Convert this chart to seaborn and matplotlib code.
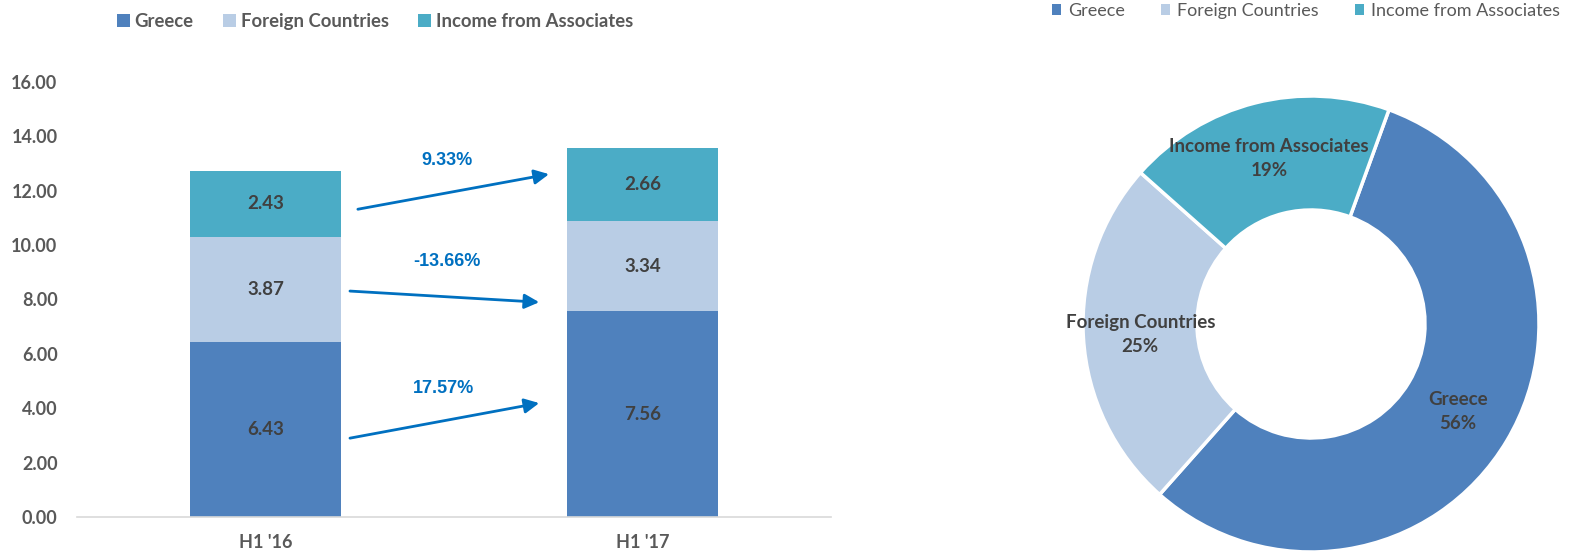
import numpy as np
import matplotlib
matplotlib.use("Agg")
import matplotlib.pyplot as plt
from matplotlib.patches import Patch
import seaborn as sns

# Revenue breakdown (EUR m) by region
periods = ["H1 '16", "H1 '17"]
series_names = ["Greece", "Foreign Countries", "Income from Associates"]
greece = [6.43, 7.56]
foreign = [3.87, 3.34]
associates = [2.43, 2.66]
changes = ["17.57%", "-13.66%", "9.33%"]
y_ticks = [0, 2, 4, 6, 8, 10, 12, 14, 16]
# H1 '17 mix, in percent
share_latest = [56, 25, 19]

colors = ["#4F81BD", "#B9CDE5", "#4BACC6"]
grey_txt = "#595959"
dark_txt = "#404040"
blue = "#0070C0"

sns.set_style("white")
plt.rcParams["font.family"] = ["Lato", "DejaVu Sans"]

W, H = 1589, 554
fig = plt.figure(figsize=(W / 100, H / 100), dpi=100)

# ---- stacked bars ----
ax = fig.add_axes([77 / W, 1 - 517 / H, 754 / W, 435 / H])
stack = [greece, foreign, associates]
bottom = np.zeros(len(periods))
for vals, col in zip(stack, colors):
    sns.barplot(x=periods, y=vals, bottom=bottom, color=col, width=0.4,
                saturation=1, ax=ax, linewidth=0)
    for i, v in enumerate(vals):
        ax.text(i, bottom[i] + v / 2, f"{v:.2f}", ha="center", va="center",
                fontsize=13.5, fontweight="bold", color=dark_txt)
    bottom = bottom + np.array(vals)

ax.set_xlim(-0.5, 1.5)
ax.set_ylim(0, 16)
ax.set_yticks(y_ticks)
ax.set_yticklabels([f"{t:.2f}" for t in y_ticks])
ax.tick_params(axis="both", length=0, labelsize=13, labelcolor=grey_txt)
ax.tick_params(axis="y", pad=14)
ax.tick_params(axis="x", pad=12)
for lab in ax.get_xticklabels() + ax.get_yticklabels():
    lab.set_fontweight("bold")
for s in ["top", "left", "right"]:
    ax.spines[s].set_visible(False)
ax.spines["bottom"].set_color("#D9D9D9")
ax.spines["bottom"].set_linewidth(1.2)
ax.set_xlabel("")
ax.set_ylabel("")

# growth arrows between periods: (start, end, label position)
arrows = [
    ((0.224, 2.90), (0.726, 4.19), (0.473, 4.71)),
    ((0.224, 8.31), (0.726, 7.90), (0.481, 9.41)),
    ((0.245, 11.32), (0.752, 12.61), (0.481, 13.12)),
]
for (start, end, lpos), txt in zip(arrows, changes):
    ax.annotate("", xy=end, xytext=start,
                arrowprops=dict(arrowstyle="-|>", color=blue, lw=2,
                                mutation_scale=22, shrinkA=0, shrinkB=0))
    ax.text(*lpos, txt, ha="center", va="center", color=blue, fontsize=13,
            fontweight="bold", family=["Liberation Sans", "DejaVu Sans"])

handles = [Patch(facecolor=c, edgecolor="none", label=n) for c, n in zip(colors, series_names)]
leg1 = fig.legend(handles=handles, loc="upper left", bbox_to_anchor=(117 / W, 1 - 13 / H),
                  ncol=3, frameon=False, handlelength=0.7, handleheight=0.7,
                  handletextpad=0.25, columnspacing=1.6, borderpad=0, borderaxespad=0,
                  prop=dict(weight="bold", size=13.3))
for t in leg1.get_texts():
    t.set_color(grey_txt)

# ---- doughnut of latest period ----
R = 228
cx, cy = 1311, 324
ax2 = fig.add_axes([(cx - R) / W, 1 - (cy + R) / H, 2 * R / W, 2 * R / H])
wedges, _ = ax2.pie(share_latest, colors=colors, startangle=70, counterclock=False,
                    radius=1, wedgeprops=dict(width=0.5, edgecolor="white", linewidth=2.5))
for w, name, v in zip(wedges, series_names, share_latest):
    ang = np.deg2rad((w.theta1 + w.theta2) / 2)
    ax2.text(0.75 * np.cos(ang), 0.75 * np.sin(ang), f"{name}\n{v}%",
             ha="center", va="center", fontsize=13.5, fontweight="bold",
             color=dark_txt, linespacing=1.5)
ax2.set_xlim(-1, 1)
ax2.set_ylim(-1, 1)
ax2.set_aspect("equal")
ax2.axis("off")

leg2 = fig.legend(handles=handles, loc="upper left", bbox_to_anchor=(1052 / W, 1 - 3 / H),
                  ncol=3, frameon=False, handlelength=0.5, handleheight=0.5,
                  handletextpad=0.4, columnspacing=2.0, borderpad=0, borderaxespad=0,
                  prop=dict(size=13))
for t in leg2.get_texts():
    t.set_color(grey_txt)

fig.savefig("out.png", dpi=100, facecolor="white")
